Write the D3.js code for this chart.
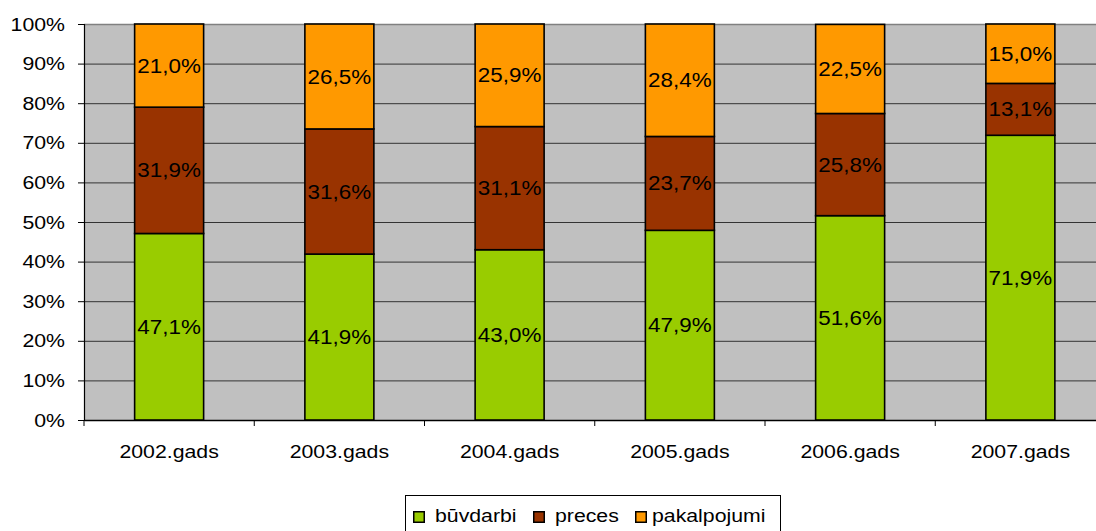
<!DOCTYPE html>
<html><head><meta charset="utf-8">
<script src="https://cdn.jsdelivr.net/npm/d3@7"></script>
<style>body{margin:0;background:#fff}svg{display:block;font-family:"Liberation Sans",Arial,sans-serif}</style>
</head><body><svg id="c" width="1096" height="531"></svg>
<script>
const categories = ["2002.gads","2003.gads","2004.gads","2005.gads","2006.gads","2007.gads"];
const seriesNames = ["būvdarbi","preces","pakalpojumi"];
const buvdarbi = [47.1,41.9,43.0,47.9,51.6,71.9];
const preces = [31.9,31.6,31.1,23.7,25.8,13.1];
const pakalpojumi = [21.0,26.5,25.9,28.4,22.5,15.0];
const yTicks = [0,10,20,30,40,50,60,70,80,90,100];
const colors = ["#99CC00","#993300","#FF9900"];

const SX = 1.15;
const svg = d3.select("#c");
const L=84, T=24, B=420, bandW=170.25;
const x = d3.scaleBand().domain(categories).range([L, L+bandW*categories.length]).paddingInner(0).paddingOuter(0);
const y = d3.scaleLinear().domain([0,100]).range([B,T]);

function stext(g, tx, ty, str, size, anchor, dy){
  return g.append("text").attr("transform",`translate(${tx},${ty}) scale(${SX},1)`)
    .attr("text-anchor",anchor||"start").attr("dy",dy||0).attr("font-size",size).attr("fill","#000").text(str);
}

svg.append("rect").attr("x",L).attr("y",T).attr("width",x.range()[1]-L).attr("height",B-T).attr("fill","#C0C0C0");
svg.append("g").selectAll("line").data(yTicks.slice(1)).join("line")
  .attr("x1",L).attr("x2",x.range()[1]).attr("y1",d=>y(d)+0.5).attr("y2",d=>y(d)+0.5)
  .attr("stroke",d=>d===100?"#808080":"#333").attr("stroke-width",d=>d===100?1.5:1);

// y axis (lines from d3 axis, labels stretched)
const ya = svg.append("g").attr("transform",`translate(${L},0)`)
  .call(d3.axisLeft(y).tickValues(yTicks).tickFormat("").tickSize(6));
ya.select(".domain").attr("stroke","#000").attr("stroke-width",1.2);
ya.selectAll(".tick line").attr("stroke","#000");
const yl = svg.append("g");
yTicks.forEach(t=>stext(yl, 65, y(t), t+"%", 18.5, "end", "0.36em"));

// x axis
const xa = svg.append("g").attr("transform",`translate(0,${B})`)
  .call(d3.axisBottom(x).tickSize(0).tickFormat(""));
xa.select(".domain").attr("stroke","#000").attr("stroke-width",1.5);
svg.append("g").selectAll("line").data(d3.range(categories.length+1)).join("line")
  .attr("x1",i=>L+i*bandW).attr("x2",i=>L+i*bandW).attr("y1",B).attr("y2",B+6).attr("stroke","#000");
const xl = svg.append("g");
categories.forEach(c=>stext(xl, x(c)+x.bandwidth()/2, 458, c, 18.5, "middle"));

const rows = categories.map((c,i)=>({cat:c,"būvdarbi":buvdarbi[i],"preces":preces[i],"pakalpojumi":pakalpojumi[i]}));
const stacked = d3.stack().keys(seriesNames)(rows);
const bw = 69;
const fmt = v => v.toFixed(1).replace(".",",")+"%";
stacked.forEach((s,si)=>{
  const g = svg.append("g");
  g.selectAll("rect").data(s).join("rect")
    .attr("x",d=>x(d.data.cat)+x.bandwidth()/2-bw/2)
    .attr("y",d=>y(d[1])).attr("width",bw).attr("height",d=>y(d[0])-y(d[1]))
    .attr("fill",colors[si]).attr("stroke","#000").attr("stroke-width",1.6);
});
stacked.forEach((s,si)=>{
  const g = svg.append("g");
  s.forEach(d=>stext(g, x(d.data.cat)+x.bandwidth()/2, (y(d[0])+y(d[1]))/2, fmt(d[1]-d[0]), 19.5, "middle", "0.36em"));
});

// legend
const lg = svg.append("g");
lg.append("rect").attr("x",405.5).attr("y",495.5).attr("width",375).attr("height",45).attr("fill","#fff").attr("stroke","#000").attr("stroke-width",1);
const sq = [413,533,635], tx = [435,555,652];
seriesNames.forEach((n,i)=>{
  lg.append("rect").attr("x",sq[i]+0.75).attr("y",511.75).attr("width",10.5).attr("height",10.5).attr("fill",colors[i]).attr("stroke","#000").attr("stroke-width",1.5);
  stext(lg, tx[i], 522, n, 18.5, "start");
});
</script></body></html>
